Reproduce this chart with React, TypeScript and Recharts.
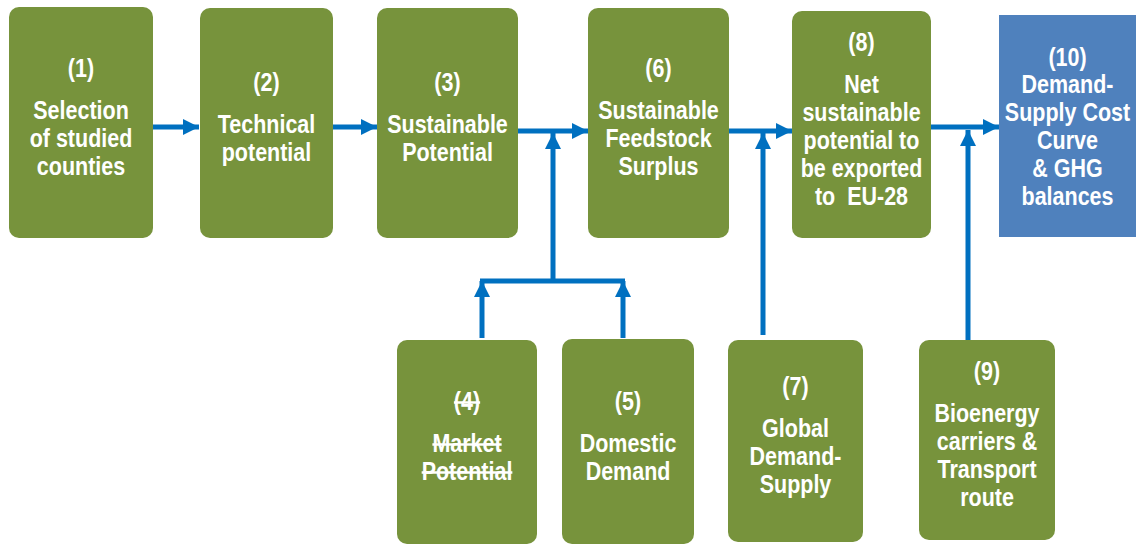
import React from 'react';
import { ScatterChart, Scatter, XAxis, YAxis, ReferenceArea, ReferenceLine } from 'recharts';

const WIDTH = 1136;
const HEIGHT = 544;

const GREEN = '#77933C';
const BLUE_BOX = '#4F81BD';
const ARROW = '#0070C0';
const FONT = "'Liberation Sans', Arial, sans-serif";
// the source uses a condensed sans; squeeze Liberation Sans to match
const SQUEEZE = 0.86;

// step boxes of the flow (extents in diagram units)
const stepNumbers = ['(1)', '(2)', '(3)', '(6)', '(8)', '(10)', '(4)', '(5)', '(7)', '(9)'];
const stepTexts = [
  ['Selection', 'of studied', 'counties'],
  ['Technical', 'potential'],
  ['Sustainable', 'Potential'],
  ['Sustainable', 'Feedstock', 'Surplus'],
  ['Net', 'sustainable', 'potential to', 'be exported', 'to  EU-28'],
  ['Demand-', 'Supply Cost', 'Curve', '& GHG', 'balances'],
  ['Market', 'Potential'],
  ['Domestic', 'Demand'],
  ['Global', 'Demand-', 'Supply'],
  ['Bioenergy', 'carriers &', 'Transport', 'route'],
];
const stepBoxes = [
  { x1: 9, x2: 153, y1: 7, y2: 238 },
  { x1: 200, x2: 333, y1: 8, y2: 238 },
  { x1: 377, x2: 518, y1: 8, y2: 238 },
  { x1: 588, x2: 729, y1: 8, y2: 238 },
  { x1: 792, x2: 931, y1: 11, y2: 238 },
  { x1: 999, x2: 1136, y1: 15, y2: 237 },
  { x1: 397, x2: 537, y1: 340, y2: 544 },
  { x1: 562, x2: 694, y1: 339, y2: 544 },
  { x1: 728, x2: 863, y1: 340, y2: 542 },
  { x1: 919, x2: 1055, y1: 340, y2: 540 },
];
const resultStep = '(10)';
const struckStep = '(4)';

// arrows: shaft from (x1,y1) to the tip (x2,y2)
const arrows = [
  { x1: 153, y1: 127, x2: 199, y2: 127 },
  { x1: 333, y1: 127, x2: 377, y2: 127 },
  { x1: 518, y1: 131, x2: 588, y2: 131 },
  { x1: 729, y1: 131, x2: 792, y2: 131 },
  { x1: 931, y1: 127, x2: 999, y2: 127 },
  { x1: 553, y1: 281, x2: 553, y2: 133 },
  { x1: 763, y1: 335, x2: 763, y2: 133 },
  { x1: 968, y1: 340, x2: 968, y2: 130 },
  { x1: 482, y1: 338, x2: 482, y2: 281 },
  { x1: 623, y1: 338, x2: 623, y2: 281 },
];
// plain connector without head
const connectors = [{ x1: 480, y1: 281, x2: 625, y2: 281 }];

const heads = arrows.map(a => ({ x: a.x2, y: a.y2, dir: a.y1 === a.y2 ? 'right' : 'up' }));

const ArrowHead = (props: any) => {
  const { cx, cy, payload } = props;
  if (cx == null || cy == null) return null;
  const L = 16;
  const W = 8;
  const pts = payload.dir === 'right'
    ? `${cx},${cy} ${cx - L},${cy - W} ${cx - L},${cy + W}`
    : `${cx},${cy} ${cx - W},${cy + L} ${cx + W},${cy + L}`;
  return <polygon points={pts} fill={ARROW} />;
};

const StepBox = (props: any) => {
  const { x, y, width, height, num, lines } = props;
  const result = num === resultStep;
  const struck = num === struckStep;
  const lineH = 28;
  const gap = result ? 27 : 42;
  const mid = y + height / 2 - (result ? 0 : 6);
  const numCenter = mid - (gap + (lines.length - 1) * lineH) / 2;
  const cx = x + width / 2;
  const textStyle: any = {
    fontFamily: FONT,
    fontWeight: 'bold',
    fontSize: 25,
    fill: '#fff',
    whiteSpace: 'pre',
    textDecoration: struck ? 'line-through' : 'none',
  };
  const line = (t: string, yc: number, key: any) => (
    <text key={key} x={0} y={0} transform={`translate(${cx} ${yc + 9}) scale(${SQUEEZE} 1)`} textAnchor='middle' style={textStyle}>{t}</text>
  );
  return (
    <g>
      <rect x={x} y={y} width={width} height={height} rx={result ? 0 : 10} ry={result ? 0 : 10} fill={result ? BLUE_BOX : GREEN} />
      {line(num, numCenter, 'n')}
      {lines.map((t: string, i: number) => line(t, numCenter + gap + i * lineH, i))}
    </g>
  );
};

export default function App() {
  return (
    <div style={{ position: 'absolute', left: 0, top: 0, width: WIDTH, height: HEIGHT, background: '#fff' }}>
      <ScatterChart width={WIDTH} height={HEIGHT} margin={{ top: 0, right: 0, bottom: 0, left: 0 }}>
        <XAxis type='number' dataKey='x' domain={[0, WIDTH]} allowDataOverflow hide />
        <YAxis type='number' dataKey='y' domain={[0, HEIGHT]} allowDataOverflow reversed hide />
        {stepBoxes.map((b, i) => (
          <ReferenceArea
            key={stepNumbers[i]}
            x1={b.x1}
            x2={b.x2}
            y1={b.y1}
            y2={b.y2}
            ifOverflow='visible'
            shape={(p: any) => <StepBox {...p} num={stepNumbers[i]} lines={stepTexts[i]} />}
          />
        ))}
        {[...arrows, ...connectors].map((a, i) => (
          <ReferenceLine
            key={'l' + i}
            segment={[{ x: a.x1, y: a.y1 }, { x: a.x2, y: a.y2 }]}
            stroke={ARROW}
            strokeWidth={5}
            ifOverflow='visible'
          />
        ))}
        <Scatter data={heads} isAnimationActive={false} shape={(p: any) => <ArrowHead {...p} />} />
      </ScatterChart>
    </div>
  );
}
